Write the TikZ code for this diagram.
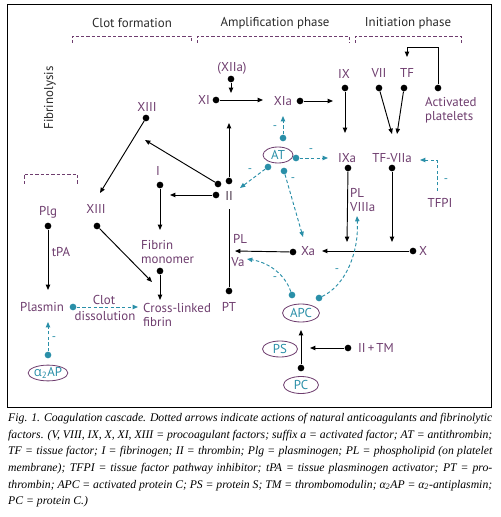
\documentclass[tikz,border=0pt]{standalone}
\usepackage{fontspec}
\setmainfont{PT Sans}
\newfontfamily\grkfont{Open Sans}
\newfontfamily\capfont{Liberation Serif}
\usetikzlibrary{arrows.meta,shapes.geometric}
\definecolor{purp}{HTML}{6E3D6E}
\definecolor{teal2}{HTML}{2A8FA8}
\definecolor{hdr}{HTML}{2B2B2B}
\tikzset{
  lab/.style={text=purp,font=\fontsize{11}{11.5}\selectfont,inner sep=0pt},
  hd/.style={text=hdr,font=\fontsize{11}{11.5}\selectfont,inner sep=0pt},
  bdot/.style={circle,fill=black,inner sep=0pt,minimum size=0.2cm},
  tdot/.style={circle,fill=teal2,inner sep=0pt,minimum size=0.2cm},
  con/.style={line width=0.8pt,black},
  arr/.style={con,-{Triangle[length=0.16cm,width=0.13cm]}},
  tarr/.style={line width=0.8pt,teal2,dash pattern=on 0.1cm off 0.07cm,-{Triangle[length=0.16cm,width=0.13cm]}},
  minus/.style={text=teal2,font=\fontsize{10}{10}\selectfont,inner sep=0pt},
  oval/.style={ellipse,draw=purp,line width=0.7pt,text=teal2,inner sep=0pt,font=\fontsize{11}{11.5}\selectfont},
  brk/.style={purp,line width=0.6pt,dash pattern=on 0.1cm off 0.06cm},
}
\begin{document}
\begin{tikzpicture}[x=0.03cm,y=-0.03cm]
\useasboundingbox (0,0) rectangle (500,517);
\draw[line width=0.8pt] (7,4) rectangle (491,407);
% headers
\node[hd] (hClot) at (132,23) {Clot formation};
\node[hd] (hAmp) at (275,23) {Amplification phase};
\node[hd] (hInit) at (408,23) {Initiation phase};
\node[hd,rotate=90] (hFib) at (50,98) {Fibrinolysis};
\draw[brk] (72,43) -- (72,36) -- (191,36) -- (191,43);
\draw[brk] (197,43) -- (197,36) -- (349,36) -- (349,43);
\draw[brk] (355,43) -- (355,36) -- (461,36) -- (461,43);
\draw[brk] (24,184) -- (24,174) -- (77,174) -- (77,184);
% labels
\node[lab] (XIIa) at (232,68) {(XIIa)};
\node[lab] (XI) at (204,100) {XI};
\node[lab] (XIa) at (283,101) {XIa};
\node[lab] (IX) at (344,74) {IX};
\node[lab] (IXa) at (347,158) {IXa};
\node[lab] (VII) at (379,73) {VII};
\node[lab] (TF) at (407,73) {TF};
\node[lab] (TFVIIa) at (392,158) {TF-VIIa};
\node[lab,align=left,anchor=west] (act) at (425,110) {Activated\\platelets};
\node[lab] (XIIIu) at (147,107) {XIII};
\node[lab] (XIIIl) at (96,209) {XIII};
\node[lab,text=hdr!60!purp] (II) at (229,196) {II};
\node[lab] (I) at (158,171) {I};
\node[lab,align=left,anchor=west] (FM) at (141,252) {Fibrin\\monomer};
\node[lab,align=left,anchor=west] (CLF) at (143,315) {Cross-linked\\fibrin};
\node[lab] (Plg) at (48,212) {Plg};
\node[lab] (tPA) at (61,252) {tPA};
\node[lab] (Plasmin) at (42,307) {Plasmin};
\node[lab] (clot) at (104,300) {Clot};
\node[lab] (diss) at (105,316) {dissolution};
\node[lab] (PT) at (229,307) {PT};
\node[lab] (PLa) at (240,239) {PL};
\node[lab] (Va) at (238,262) {Va};
\node[lab] (Xa) at (308,251) {Xa};
\node[lab] (X) at (423,251) {X};
\node[lab,anchor=west] (PLb) at (350,193) {PL};
\node[lab,anchor=west] (VIIIa) at (350,207) {VIIIa};
\node[lab] (TFPI) at (440,203) {TFPI};
\node[lab] (IITM) at (376,348) {II\,+\,TM};
% ovals
\node[oval,minimum width=0.9cm,minimum height=0.48cm] (AT) at (278,155) {AT};
\node[oval,minimum width=1.11cm,minimum height=0.54cm] (APC) at (301,313) {APC};
\node[oval,minimum width=1.05cm,minimum height=0.48cm] (PS) at (280,349) {PS};
\node[oval,minimum width=1.05cm,minimum height=0.51cm] (PC) at (301,385) {PC};
\node[oval,minimum width=1.17cm,minimum height=0.45cm] (A2AP) at (48,373) {{\grkfont α}\textsubscript{2}AP};
% black dots
\node[bdot] (dXIIa) at (231,79) {};
\node[bdot] (dXI) at (216,100) {};
\node[bdot] (dXIa) at (300,101) {};
\node[bdot] (dIX) at (345,88) {};
\node[bdot] (dVII) at (379,88) {};
\node[bdot] (dTF) at (404,88) {};
\node[bdot] (dact) at (438,88) {};
\node[bdot] (dIXa) at (348,168) {};
\node[bdot] (dTFVIIa) at (392,168) {};
\node[bdot] (dXIIIu) at (146,118) {};
\node[bdot] (dXIIIl) at (97,226) {};
\node[bdot] (dIIa) at (229,181) {};
\node[bdot] (dIIb) at (218,184) {};
\node[bdot] (dIIc) at (216,195) {};
\node[bdot] (dI) at (160,185) {};
\node[bdot] (dFM) at (160,271) {};
\node[bdot] (dPlg) at (48,226) {};
\node[bdot] (dPT) at (229,291) {};
\node[bdot] (dXa) at (293,252) {};
\node[bdot] (dX) at (413,251) {};
\node[bdot] (dPC) at (301,368) {};
\node[bdot] (dIITM) at (348,348) {};
% teal dots
\node[tdot] (dPlasmin) at (73,307) {};
\node[tdot] (dA2) at (48,355) {};
\node[tdot] (dATt) at (283,138) {};
\node[tdot] (dATr) at (296,158) {};
\node[tdot] (dATl) at (268,167) {};
\node[tdot] (dATb) at (284,171) {};
\node[tdot] (dAPCl) at (292,295) {};
\node[tdot] (dAPCr) at (319,298) {};
% arrow end coordinates
\coordinate (cXIIa) at (231,93);
\coordinate (cXIa) at (263,100);
\coordinate (cIXline) at (333,101);
\coordinate (cIXa) at (345,133);
\coordinate (cVIIa1) at (392,134);
\coordinate (cVIIa2) at (397,134);
\coordinate (cTFa) at (438,47);
\coordinate (cTFb) at (407,47);
\coordinate (cTF) at (407,57);
\coordinate (cXIIIl) at (100,193);
\coordinate (cXIIIu) at (145,140);
\coordinate (cIline) at (170,195);
\coordinate (cXIline) at (229,123);
\coordinate (cFM) at (160,230);
\coordinate (cCLF) at (160,300);
\coordinate (cCLF2) at (152,282);
\coordinate (cPlasmin) at (48,290);
\coordinate (cII) at (229,209);
\coordinate (cVa) at (235,251);
\coordinate (cXa) at (322,251);
\coordinate (cXline1) at (347,242);
\coordinate (cXline2) at (392,242);
\coordinate (cAPC) at (301,330);
\coordinate (cPCline) at (310,348);
\coordinate (cCLFt) at (138,307);
\coordinate (cPlasminB) at (48,322);
\coordinate (cXIaT) at (283,116);
\coordinate (cIXaT) at (328,158);
\coordinate (cIIT) at (240,188);
\coordinate (cXaT) at (303,237);
\coordinate (cVaT) at (247,259);
\coordinate (cVIIIaT) at (357,216);
\coordinate (cTFPIa) at (437,191);
\coordinate (cTFPIb) at (437,160);
\coordinate (cTFVIIaT) at (420,160);
% black connectors
\draw[arr] (dXIIa) -- (cXIIa);
\draw[arr] (dXI) -- (cXIa);
\draw[arr] (dXIa) -- (cIXline);
\draw[arr] (dIX) -- (cIXa);
\draw[arr] (dVII) -- (cVIIa1);
\draw[arr] (dTF) -- (cVIIa2);
\draw[arr] (dact) -- (cTFa) -- (cTFb) -- (cTF);
\draw[arr] (dXIIIu) -- (cXIIIl);
\draw[arr] (dIIb) -- (cXIIIu);
\draw[arr] (dIIc) -- (cIline);
\draw[arr] (dIIa) -- (cXIline);
\draw[arr] (dI) -- (cFM);
\draw[arr] (dFM) -- (cCLF);
\draw[arr] (dXIIIl) -- (cCLF2);
\draw[arr] (dPlg) -- (cPlasmin);
\draw[con] (dPT) -- (cII);
\draw[arr] (dXa) -- (cVa);
\draw[arr] (dX) -- (cXa);
\draw[arr] (dIXa) -- (cXline1);
\draw[arr] (dTFVIIa) -- (cXline2);
\draw[arr] (dPC) -- (cAPC);
\draw[arr] (dIITM) -- (cPCline);
% teal dashed connectors
\draw[tarr] (dPlasmin) -- (cCLFt);
\draw[tarr] (dA2) -- (cPlasminB);
\draw[tarr] (dATt) -- (cXIaT);
\draw[tarr] (dATr) -- (cIXaT);
\draw[tarr] (dATl) -- (cIIT);
\draw[tarr] (dATb) -- (cXaT);
\draw[tarr] (dAPCl) .. controls (284,272) and (266,262) .. (cVaT);
\draw[tarr] (dAPCr) .. controls (346,285) and (359,252) .. (cVIIIaT);
\draw[tarr] (cTFPIa) -- (cTFPIb) -- (cTFVIIaT);
% minus signs
\node[minus] (m1) at (54,339) {-};
\node[minus] (m2) at (275,128) {-};
\node[minus] (m3) at (311,151) {-};
\node[minus] (m4) at (250,171) {-};
\node[minus] (m5) at (293,180) {-};
\node[minus] (m6) at (275,279) {-};
\node[minus] (m7) at (337,271) {-};
\node[minus] (m8) at (446,181) {-};
% caption
\node[anchor=north west,inner sep=0pt,text width=14.52cm,align=justify,
      font=\capfont\itshape\fontsize{10}{14.2}\selectfont,text=black] (cap) at (8,413)
{Fig. 1. Coagulation cascade. Dotted arrows indicate actions of natural anticoagulants and fibrinolytic\linebreak
factors. (V, VIII, IX, X, XI, XIII = procoagulant factors; suffix a = activated factor; AT = antithrombin;\linebreak
TF = tissue factor; I = fibrinogen; II = thrombin; Plg = plasminogen; PL = phospholipid (on platelet\linebreak
membrane); TFPI = tissue factor pathway inhibitor; tPA = tissue plasminogen activator; PT = pro-\linebreak
thrombin; APC = activated protein C; PS = protein S; TM = thrombomodulin; α\textsubscript{2}AP = α\textsubscript{2}-antiplasmin;\linebreak
PC = protein C.)};
\end{tikzpicture}
\end{document}
